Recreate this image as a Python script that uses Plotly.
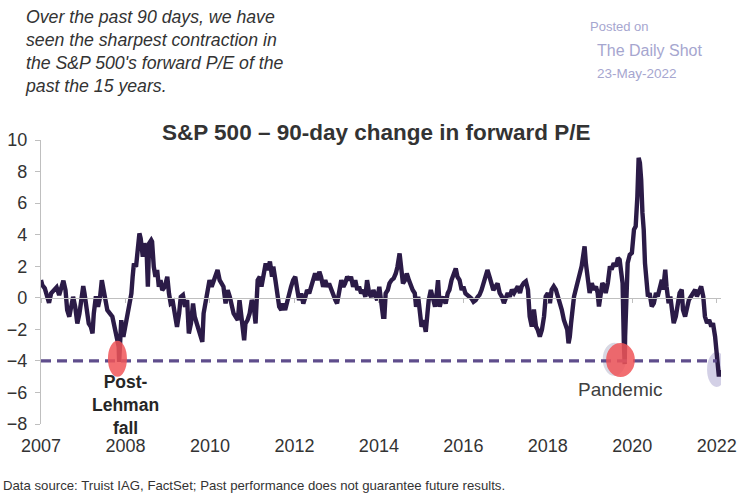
import plotly.graph_objects as go

# ---------------- data ----------------
years = [
    2006.00, 2006.03, 2006.09, 2006.13, 2006.19, 2006.24, 2006.31, 2006.37, 2006.43, 2006.48,
    2006.53, 2006.58, 2006.62, 2006.67, 2006.72, 2006.76, 2006.81, 2006.86, 2006.91, 2006.96,
    2007.00, 2007.03, 2007.08, 2007.13, 2007.18, 2007.22, 2007.25, 2007.30, 2007.35, 2007.40,
    2007.44, 2007.47, 2007.52, 2007.57, 2007.63, 2007.69, 2007.74, 2007.79, 2007.84, 2007.85,
    2007.87, 2007.90, 2007.95, 2008.00, 2008.05, 2008.09, 2008.14, 2008.17, 2008.20, 2008.25,
    2008.30, 2008.33, 2008.36, 2008.41, 2008.45, 2008.50, 2008.53, 2008.56, 2008.61,
    2008.63, 2008.67, 2008.71, 2008.75, 2008.79, 2008.83, 2008.87, 2008.93, 2008.99, 2009.03,
    2009.07, 2009.12, 2009.17, 2009.22, 2009.27, 2009.31, 2009.36, 2009.41, 2009.46, 2009.50,
    2009.55, 2009.60, 2009.64, 2009.69, 2009.74, 2009.79, 2009.82, 2009.85, 2009.90, 2009.95,
    2009.99, 2010.04, 2010.09, 2010.13, 2010.18, 2010.23, 2010.28, 2010.32, 2010.37, 2010.42,
    2010.47, 2010.51, 2010.56, 2010.61, 2010.66, 2010.70, 2010.73, 2010.78, 2010.81, 2010.84,
    2010.89, 2010.94, 2010.99, 2011.03, 2011.08, 2011.13, 2011.18, 2011.22, 2011.27, 2011.32,
    2011.37,
    2011.42, 2011.47, 2011.50, 2011.55, 2011.59, 2011.64, 2011.69, 2011.73, 2011.78, 2011.83,
    2011.88, 2011.92, 2011.97, 2012.02, 2012.07, 2012.11, 2012.16, 2012.21, 2012.26, 2012.30,
    2012.35, 2012.40, 2012.45, 2012.49, 2012.54, 2012.59, 2012.63, 2012.68, 2012.73, 2012.78,
    2012.82, 2012.87, 2012.92, 2012.97, 2013.01, 2013.06, 2013.11, 2013.16, 2013.20, 2013.25,
    2013.30, 2013.34, 2013.39, 2013.44, 2013.49, 2013.53, 2013.58, 2013.63, 2013.68, 2013.72,
    2013.77, 2013.82, 2013.87, 2013.91, 2013.96, 2014.01, 2014.05, 2014.10,
    2014.13, 2014.16, 2014.21, 2014.25, 2014.30, 2014.35, 2014.40, 2014.44, 2014.49, 2014.52,
    2014.57, 2014.62, 2014.66, 2014.71, 2014.76, 2014.80, 2014.85, 2014.88, 2014.93, 2014.98,
    2015.01, 2015.06, 2015.11, 2015.15, 2015.18, 2015.23, 2015.28, 2015.33, 2015.37, 2015.40,
    2015.44, 2015.48, 2015.53, 2015.58, 2015.63, 2015.67, 2015.72, 2015.77, 2015.82, 2015.86,
    2015.91, 2015.96, 2016.00, 2016.05, 2016.10, 2016.15, 2016.19, 2016.24, 2016.29, 2016.34,
    2016.38, 2016.43, 2016.48, 2016.53, 2016.57, 2016.62, 2016.67, 2016.71, 2016.76, 2016.81,
    2016.86, 2016.91, 2016.96, 2017.01, 2017.05, 2017.10, 2017.15, 2017.20, 2017.24, 2017.29,
    2017.34, 2017.38, 2017.43, 2017.48, 2017.53, 2017.57, 2017.62, 2017.67, 2017.72, 2017.76,
    2017.81, 2017.86, 2017.91, 2017.95, 2018.00, 2018.05, 2018.09, 2018.14, 2018.19, 2018.24,
    2018.28, 2018.33, 2018.38, 2018.43, 2018.46, 2018.49, 2018.52, 2018.55, 2018.58, 2018.62,
    2018.66, 2018.71, 2018.76, 2018.80, 2018.84, 2018.87, 2018.90, 2018.95, 2018.99, 2019.04,
    2019.09, 2019.14, 2019.18, 2019.21, 2019.25, 2019.29, 2019.34,
    2019.37, 2019.42, 2019.47, 2019.51, 2019.56, 2019.61, 2019.66, 2019.70, 2019.74, 2019.77,
    2019.80, 2019.82, 2019.83, 2019.86, 2019.89, 2019.94, 2019.99, 2020.04, 2020.08, 2020.12,
    2020.15, 2020.18, 2020.21, 2020.24, 2020.27, 2020.30, 2020.34, 2020.37, 2020.41, 2020.46,
    2020.51, 2020.56, 2020.60, 2020.65, 2020.70, 2020.73, 2020.78, 2020.81, 2020.86, 2020.90,
    2020.95, 2020.98, 2021.03, 2021.08, 2021.12, 2021.17, 2021.20, 2021.25, 2021.30, 2021.34,
    2021.39, 2021.44, 2021.49, 2021.53, 2021.58, 2021.63, 2021.68, 2021.72, 2021.77, 2021.82,
    2021.87, 2021.91, 2021.96, 2021.99, 2022.02, 2022.05, 2022.07,
]

pe_change = [
    1.12, 0.80, 0.60, 0.17, -0.32, 0.28, 0.49, 0.66, 0.17, 0.70,
    1.08, 0.49, -0.78, -1.20, -0.47, 0.06, -0.57, -1.63, -1.00, -0.15,
    0.74, 0.28, -0.99, -1.63, -1.84, -2.26, -0.99, 0.10, -0.57, 0.06,
    1.12, 0.70, -0.36, -0.78, -0.99, -1.20, -1.84, -2.48, -3.11, -4.06,
    -2.90, -1.42, -2.48, -1.84, -0.99, -0.57, 0.28, 1.33, 2.18, 1.97,
    3.24, 4.08, 3.77, 2.60, 3.45, 3.03, 0.70, 3.45, 3.66,
    3.56, 1.97, 1.33, 1.76, 0.70, 1.12, 0.49, 0.70, 1.33, 0.28,
    -0.36, -0.25, -0.99, -1.84, -0.99, 0.06, 0.17, -0.57, -0.15, -2.26,
    -1.63, -0.36, -1.20, -1.63, -2.05, -2.48, -2.79, -0.99, -0.15, 0.49,
    1.12, 0.70, 1.12, 1.33, 1.76, 1.12, 0.91, 0.70, -0.36, 0.49,
    0.06, -0.57, -0.99, -1.20, -1.42, -0.15, -0.99, -2.48, -2.69, -1.63,
    -1.42, -0.99, -0.15, -0.36, -1.63, 1.12, 1.33, 0.70, 1.54, 2.18,
    1.76,
    2.29, 1.33, 1.97, 1.12, 0.06, -0.57, -0.78, -0.36, -0.78, -0.15,
    0.28, 0.70, 1.12, 1.33, 0.49, -0.15, 0.28, -0.36, 0.06, 0.49,
    0.28, 0.70, 1.12, 1.54, 1.12, 1.65, 1.33, 0.70, 1.12, 0.70,
    0.91, 0.49, 0.28, -0.15, -0.36, 0.49, 1.12, 0.70, 0.91, 1.33,
    1.12, 1.33, 0.70, 1.12, 0.49, 0.70, 0.28, 0.49, 0.06, 1.12,
    0.28, 0.06, 0.49, 0.17, -0.15, 0.70, -0.15, -1.20,
    -1.20, 0.28, 0.49, 0.91, 1.12, 1.23, 1.54, 1.97, 2.81, 1.97,
    0.91, 1.12, 1.54, 1.12, 0.70, 0.49, 0.28, -0.57, 0.06, -0.99,
    -1.84, -1.42, -2.16, -0.99, -0.15, 0.49, 0.06, -0.57, 0.28, 1.12,
    -0.57, -0.15, 0.06, -0.36, 0.28, 0.49, 1.12, 1.54, 1.86, 1.33,
    1.12, 0.49, 0.70, 0.28, 0.17, 0.06, -0.04, -0.25, -0.15, 0.06,
    0.17, 0.49, 0.91, 1.33, 1.76, 1.33, 0.91, 0.49, 0.70, 0.91,
    0.30, 0.08, -0.34, 0.08, 0.30, 0.08, 0.51, 0.30, 0.51, 0.72,
    0.30, 0.72, 0.93, 1.04, 0.51, -1.19, -1.82, -0.74, -1.82, -2.03,
    -2.46, -2.03, -1.19, 0.08, 0.30, -0.34, 0.51, 0.72, 0.51, 0.08,
    -0.34, -0.76, -1.40, -1.82, -2.03, -2.88, -2.46, -1.61, -0.76, 0.08,
    0.51, 0.93, 1.57, 1.99, 2.62, 3.26, 2.20, 1.14, 0.30, 0.93,
    0.51, 0.72, 0.30, -0.55, 0.51, 0.93, 0.72,
    0.30, 0.93, 1.99, 1.78, 2.20, 1.99, 2.52, 2.41, 1.78, 0.93,
    -2.88, -4.20, -2.46, 1.14, 2.20, 2.73, 2.84, 4.32, 4.53, 6.43,
    8.87, 8.55, 7.49, 5.38, 4.32, 2.20, 0.51, 0.08, 0.30, -0.55,
    -0.34, 0.30, 0.08, 0.72, 1.14, 0.51, 1.78, 0.72, -0.34, 0.08,
    -0.76, -1.61, -1.19, -0.55, 0.30, 0.51, -0.76, -1.19, -0.55, -0.13,
    0.08, 0.30, 0.51, 0.08, 0.51, 0.72, 0.08, -1.19, -1.61, -1.40,
    -1.82, -1.61, -2.46, -3.30, -4.15, -4.99, -4.57,
]

threshold_x = [2006.0, 2022.0]
threshold_y = [-4, -4]

tick_vals = [2006, 2008, 2010, 2012, 2014, 2016, 2018, 2020, 2022]
tick_text = ["2007", "2008", "2010", "2012", "2014", "2016", "2018", "2020", "2022"]
y_ticks = [-8, -6, -4, -2, 0, 2, 4, 6, 8, 10]

# ---------------- layout geometry ----------------
W, H = 743, 495
ML, MR, MT, MB = 41, 22, 140, 71
PW, PH = W - ML - MR, H - MT - MB
X_RANGE = [2006.0, 2022.1]
Y_RANGE = [-8, 10]


def px(x):
    return (x - ML) / PW


def py(y):
    return (H - MB - y) / PH


FONT = "Liberation Sans, Arial, sans-serif"
LINE_COL = "#2b1b47"
AXIS_COL = "#bfbfbf"
TEXT_COL = "#333333"
LAV = "#a6a6cf"

fig = go.Figure()

fig.add_trace(go.Scatter(
    x=threshold_x, y=threshold_y, mode="lines",
    line=dict(color="#5f4d8c", width=3.2, dash="10px,6px"),
    xaxis="x2", yaxis="y", hoverinfo="skip", showlegend=False,
))

fig.add_trace(go.Scatter(
    x=years, y=pe_change, mode="lines",
    line=dict(color=LINE_COL, width=4.4),
    showlegend=False, cliponaxis=False,
))

shapes = [
    # grey ellipse near pandemic (behind)
    dict(type="circle", xref="x", yref="y", layer="below",
         x0=2019.30, x1=2019.85, y0=-4.95, y1=-2.85,
         fillcolor="rgba(200,200,215,0.7)", line=dict(width=0)),
    # grey ellipse at the latest reading
    dict(type="circle", xref="x", yref="y", layer="below",
         x0=2021.77, x1=2022.22, y0=-5.65, y1=-3.43,
         fillcolor="rgba(196,192,222,0.75)", line=dict(width=0)),
    # red ellipses
    dict(type="circle", xref="x", yref="y", layer="above",
         x0=2007.585, x1=2008.035, y0=-5.01, y1=-2.73,
         fillcolor="rgba(240,85,88,0.85)", line=dict(width=0)),
    dict(type="circle", xref="x", yref="y", layer="above",
         x0=2019.38, x1=2020.06, y0=-5.02, y1=-2.86,
         fillcolor="rgba(240,85,88,0.85)", line=dict(width=0)),
]

annotations = [
    dict(xref="paper", yref="paper", x=px(23), y=py(5), xanchor="left", yanchor="top",
         align="left", showarrow=False,
         text="<i>Over the past 90 days, we have<br>seen the sharpest contraction in<br>"
              "the S&P 500's forward P/E of the<br>past the 15 years.</i>",
         font=dict(family=FONT, size=17.7, color=TEXT_COL)),
    dict(xref="paper", yref="paper", x=px(376), y=py(133), xanchor="center", yanchor="middle",
         showarrow=False, text="<b>S&P 500 \u2013 90-day change in forward P/E</b>",
         font=dict(family=FONT, size=22.5, color=TEXT_COL)),
    dict(xref="paper", yref="paper", x=px(588), y=py(26), xanchor="left", yanchor="middle",
         showarrow=False, text="Posted on", font=dict(family=FONT, size=13, color=LAV)),
    dict(xref="paper", yref="paper", x=px(595), y=py(50), xanchor="left", yanchor="middle",
         showarrow=False, text="The Daily Shot", font=dict(family=FONT, size=16, color=LAV)),
    dict(xref="paper", yref="paper", x=px(595), y=py(73), xanchor="left", yanchor="middle",
         showarrow=False, text="23-May-2022", font=dict(family=FONT, size=13.5, color=LAV)),
    dict(xref="paper", yref="paper", x=px(1), y=py(485), xanchor="left", yanchor="middle",
         showarrow=False,
         text="Data source: Truist IAG, FactSet; Past performance does not guarantee future results.",
         font=dict(family=FONT, size=13.2, color=TEXT_COL)),
    dict(xref="x", yref="y", x=2008.01, y=-6.78, xanchor="center", yanchor="middle",
         showarrow=False, text="<b>Post-<br>Lehman<br>fall</b>",
         font=dict(family=FONT, size=17.5, color="#262626")),
    dict(xref="x", yref="y", x=2019.71, y=-5.84, xanchor="center", yanchor="middle",
         showarrow=False, text="Pandemic",
         font=dict(family=FONT, size=19, color="#404040")),
]

fig.update_layout(
    width=W, height=H,
    margin=dict(l=ML, r=MR, t=MT, b=MB, pad=0, autoexpand=False),
    paper_bgcolor="white", plot_bgcolor="white",
    font=dict(family=FONT, color=TEXT_COL),
    showlegend=False,
    shapes=shapes,
    annotations=annotations,
    xaxis=dict(
        range=X_RANGE, tickmode="array", tickvals=tick_vals, ticktext=tick_text,
        showgrid=False, zeroline=False, showline=False, ticks="", automargin=False,
        tickfont=dict(family=FONT, size=18, color=TEXT_COL),
        ticklabelstandoff=9,
    ),
    xaxis2=dict(
        range=X_RANGE, overlaying="x", anchor="free", position=8 / 18,
        tickmode="array", tickvals=tick_vals, showticklabels=False, automargin=False,
        showgrid=False, zeroline=False, showline=True, linecolor=AXIS_COL, linewidth=1.3,
        ticks="outside", ticklen=4, tickcolor=AXIS_COL, tickwidth=1.3,
    ),
    yaxis=dict(
        range=Y_RANGE, tickmode="array", tickvals=y_ticks, automargin=False,
        showgrid=False, zeroline=False, showline=True, linecolor=AXIS_COL, linewidth=1.3,
        ticks="outside", ticklen=5, tickcolor=AXIS_COL, tickwidth=1.3,
        tickfont=dict(family=FONT, size=18, color=TEXT_COL),
        ticklabelstandoff=4,
    ),
)

fig.write_html("out.html")
